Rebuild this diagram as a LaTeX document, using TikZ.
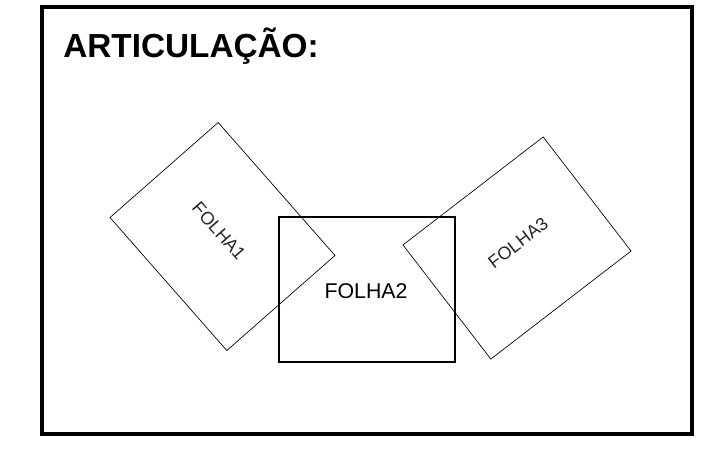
\documentclass[tikz,border=0pt]{standalone}
\usepackage{fontspec}
\setmainfont{Liberation Sans}
\usepackage{tikz}
\usetikzlibrary{shapes, positioning, backgrounds}

\tikzset{
    frame/.style={draw=black, line width=2.4pt},
    sheet/.style={rectangle, draw=black, line width=0.5pt, minimum width=132.75pt, minimum height=108pt, inner sep=0pt},
    mainsheet/.style={rectangle, draw=black, line width=2pt, minimum width=132pt, minimum height=108.75pt, inner sep=0pt},
    sheetlabel/.style={text=black!85, font=\fontsize{13.5}{15}\selectfont, inner sep=0pt}
}

\begin{document}
\begin{tikzpicture}[x=0.75pt, y=-0.75pt]
    \useasboundingbox (0,0) rectangle (701,450);

    \draw[frame] (42,7) rectangle (692,434);
    \node[anchor=base west, inner sep=0pt, font=\fontsize{25}{30}\selectfont\bfseries] (titulo) at (63,57) {ARTICULAÇÃO:};

    % folhas vizinhas
    \node[sheet, rotate=-48.7] (folha1) at (222.5,236.5) {};
    \node[sheetlabel, rotate=-48.7] (lbl1) at (219,231) {FOLHA1};

    \node[sheet, rotate=37.6] (folha3) at (517,248) {};
    \node[sheetlabel, rotate=37.6] (lbl3) at (518,243) {FOLHA3};

    % folha atual
    \node[mainsheet] (folha2) at (367,289.5) {};
    \node[font=\fontsize{16}{18}\selectfont, inner sep=0pt] (lbl2) at (366,291) {FOLHA2};
\end{tikzpicture}
\end{document}
